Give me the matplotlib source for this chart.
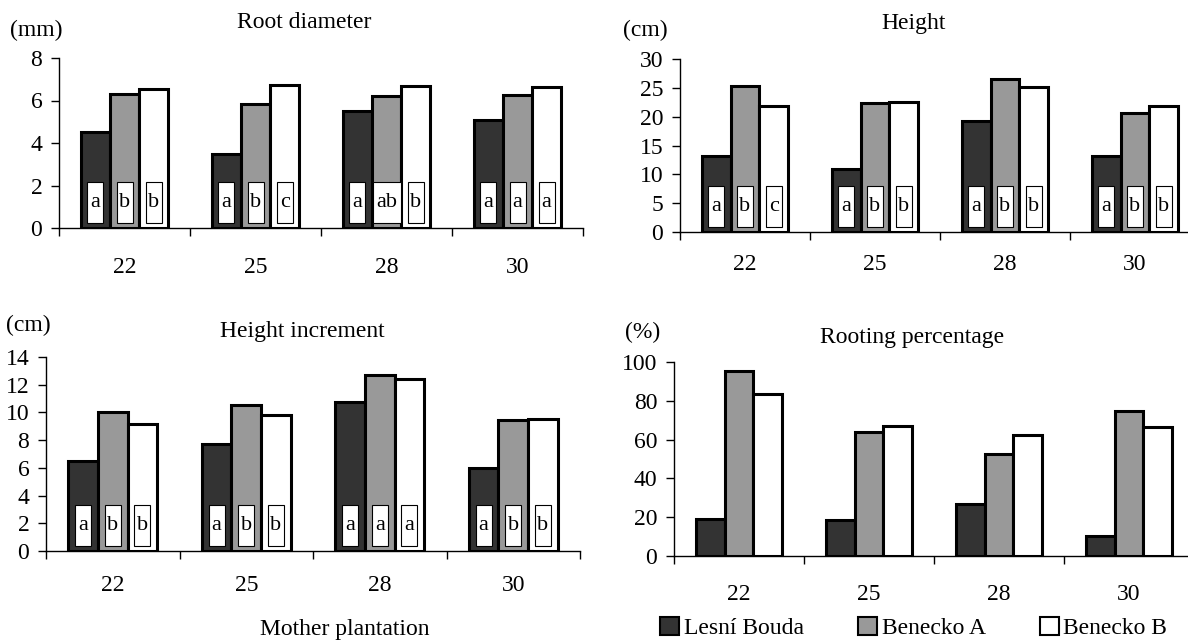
import numpy as np
import matplotlib
matplotlib.use("Agg")
import matplotlib.pyplot as plt
from matplotlib.patches import Rectangle, Patch
from matplotlib.transforms import blended_transform_factory

plt.rcParams['font.family'] = ['Liberation Serif', 'DejaVu Serif']

plantations = ['22', '25', '28', '30']
series_names = ['Lesní Bouda', 'Benecko A', 'Benecko B']
colors = ['#333333', '#999999', '#ffffff']

# root diameter (mm)
root_lesni = [4.5, 3.5, 5.5, 5.1]
root_ben_a = [6.3, 5.85, 6.2, 6.25]
root_ben_b = [6.55, 6.75, 6.7, 6.65]
root_letters = [['a', 'b', 'b'], ['a', 'b', 'c'], ['a', 'ab', 'b'], ['a', 'a', 'a']]

# height (cm)
height_lesni = [13.1, 11.0, 19.2, 13.1]
height_ben_a = [25.3, 22.3, 26.6, 20.7]
height_ben_b = [21.8, 22.6, 25.2, 21.8]
height_letters = [['a', 'b', 'c'], ['a', 'b', 'b'], ['a', 'b', 'b'], ['a', 'b', 'b']]

# height increment (cm)
incr_lesni = [6.5, 7.75, 10.75, 6.0]
incr_ben_a = [10.05, 10.55, 12.7, 9.45]
incr_ben_b = [9.2, 9.8, 12.4, 9.5]
incr_letters = [['a', 'b', 'b'], ['a', 'b', 'b'], ['a', 'a', 'a'], ['a', 'b', 'b']]

# rooting percentage (%)
rooting_lesni = [18.9, 18.5, 27.0, 10.5]
rooting_ben_a = [95.2, 63.8, 52.5, 75.0]
rooting_ben_b = [83.7, 67.0, 62.6, 66.7]

W, H = 1188, 640
fig = plt.figure(figsize=(W / 100, H / 100), dpi=100)
FS = 17


def px_axes(left, right, top, bottom):
    return fig.add_axes([left / W, 1 - bottom / H, (right - left) / W, (bottom - top) / H])


def panel(ax, values, ymax, ystep, letters, label_pad, hpx):
    x = np.arange(len(plantations))
    w = 1 / 4.5
    for i, (vals, c) in enumerate(zip(values, colors)):
        ax.bar(x + (i - 1) * w, vals, width=w, color=c, edgecolor='black',
               linewidth=2.2, zorder=2)
    ax.set_xlim(-0.5, len(plantations) - 0.5)
    ax.set_ylim(0, ymax)
    ax.set_yticks(np.arange(0, ymax + ystep / 2, ystep))
    ax.set_xticks(np.arange(-0.5, len(plantations), 1))
    ax.set_xticklabels([])
    ax.set_xticks(x, minor=True)
    ax.set_xticklabels(plantations, minor=True)
    ax.tick_params(axis='x', which='minor', length=0, pad=label_pad, labelsize=FS)
    ax.tick_params(axis='x', which='major', length=6, width=1, direction='out')
    ax.tick_params(axis='y', length=6, width=1, pad=6, labelsize=FS)
    for s in ['top', 'right']:
        ax.spines[s].set_visible(False)
    for s in ['left', 'bottom']:
        ax.spines[s].set_linewidth(1.0)

    # significance letters in small white boxes near the bar bases
    if letters is None:
        return
    tr = blended_transform_factory(ax.transData, ax.transAxes)
    cat_px = (ax.get_position().width * W) / len(plantations)
    y0 = 5 / hpx
    y1 = 46 / hpx
    for gi, group in enumerate(letters):
        for i, lab in enumerate(group):
            cx = gi + (i - 1) * w
            bw = (16 if len(lab) == 1 else 28) / cat_px
            ax.add_patch(Rectangle((cx - bw / 2, y0), bw, y1 - y0, transform=tr,
                                   facecolor='white', edgecolor='black',
                                   linewidth=0.8, zorder=3))
            ax.text(cx, (y0 + y1) / 2, lab, transform=tr, ha='center', va='center',
                    fontsize=16, zorder=4)


ax1 = px_axes(59, 583, 58, 228)
panel(ax1, [root_lesni, root_ben_a, root_ben_b], 8, 2, root_letters, 21, 170)
ax2 = px_axes(680, 1200, 59, 232)
panel(ax2, [height_lesni, height_ben_a, height_ben_b], 30, 5, height_letters, 16, 173)
ax3 = px_axes(46, 580, 357, 551)
panel(ax3, [incr_lesni, incr_ben_a, incr_ben_b], 14, 2, incr_letters, 17, 194)
ax4 = px_axes(674, 1194, 362, 556)
panel(ax4, [rooting_lesni, rooting_ben_a, rooting_ben_b], 100, 20, None, 20, 194)

# titles and units
for txt, x, y in [('Root diameter', 304, 23), ('Height', 914, 23),
                  ('Height increment', 302, 332), ('Rooting percentage', 912, 337)]:
    fig.text(x / W, 1 - y / H, txt, ha='center', va='center', fontsize=FS)
for txt, x, y in [('(mm)', 36, 30), ('(cm)', 645, 30), ('(cm)', 28, 325), ('(%)', 643, 332)]:
    fig.text(x / W, 1 - y / H, txt, ha='center', va='center', fontsize=FS)

fig.text(345 / W, 1 - 630 / H, 'Mother plantation', ha='center', va='center', fontsize=FS)

handles = [Patch(facecolor=c, edgecolor='black', linewidth=1.5) for c in colors]
fig.legend(handles, series_names, loc='center left', bbox_to_anchor=(660 / W, 1 - 628 / H),
           ncol=3, frameon=False, fontsize=FS, handlelength=0.8, handleheight=0.8,
           handletextpad=0.2, columnspacing=2.3, borderpad=0, borderaxespad=0)

fig.savefig('out.png', dpi=100)
